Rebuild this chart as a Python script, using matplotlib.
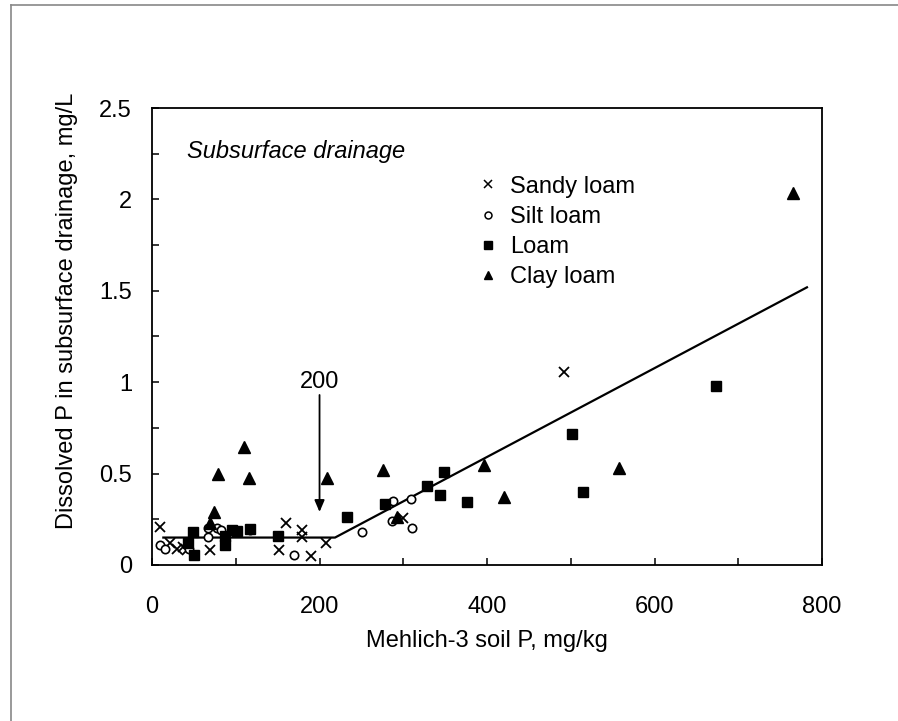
import matplotlib
matplotlib.use("Agg")
import matplotlib.pyplot as plt
from matplotlib.lines import Line2D

plt.rcParams['font.family'] = ['Liberation Sans', 'DejaVu Sans']

# Mehlich-3 soil P (mg/kg) vs dissolved P (mg/L)
sandy_x = [9.6, 22, 30, 37, 42, 69, 152, 160, 178.7, 179.5, 190, 208, 300, 492.5]
sandy_y = [0.21, 0.12, 0.09, 0.10, 0.08, 0.082, 0.082, 0.228, 0.19, 0.155, 0.049, 0.122, 0.255, 1.057]

silt_x = [10, 16, 44.5, 67, 67, 77, 82, 117, 170, 251, 286, 288, 309, 311]
silt_y = [0.11, 0.085, 0.087, 0.20, 0.155, 0.20, 0.19, 0.19, 0.055, 0.179, 0.242, 0.35, 0.36, 0.20]

loam_x = [43, 48.6, 50.5, 87, 87, 96, 101, 117, 150, 232.5, 278, 328, 344, 349, 376.5, 501, 515, 673]
loam_y = [0.12, 0.178, 0.055, 0.16, 0.11, 0.19, 0.188, 0.195, 0.157, 0.264, 0.335, 0.43, 0.383, 0.51, 0.346, 0.717, 0.40, 0.98]

clay_x = [69, 74, 78.4, 109.5, 116, 209, 276, 292, 396, 420, 557, 765]
clay_y = [0.23, 0.29, 0.50, 0.644, 0.478, 0.478, 0.52, 0.264, 0.547, 0.374, 0.53, 2.035]

# split-line model, change point near 200 mg/kg
fit_x = [13.5, 218.5, 782]
fit_y = [0.15, 0.15, 1.519]

fs = 17

fig = plt.figure(figsize=(8.98, 7.21), dpi=100)
ax = fig.add_axes([0.1693, 0.2164, 0.9154 - 0.1693, 0.8502 - 0.2164])

ax.plot(fit_x, fit_y, color='black', lw=1.6, zorder=2)

ax.plot(sandy_x, sandy_y, 'x', color='black', ms=7.5, mew=1.3, zorder=3)
ax.plot(silt_x, silt_y, 'o', mfc='white', mec='black', ms=6, mew=1.2, zorder=3)
ax.plot(loam_x, loam_y, 's', color='black', ms=6.8, zorder=3)
ax.plot(clay_x, clay_y, '^', color='black', ms=8.5, zorder=3)

ax.annotate('', xy=(200, 0.29), xytext=(200, 0.93),
            arrowprops=dict(arrowstyle='-|>,head_width=0.3,head_length=0.7',
                            color='black', lw=1.3, shrinkA=0, shrinkB=0))
ax.text(200, 1.0, '200', ha='center', va='center', fontsize=fs)

ax.text(0.052, 0.904, 'Subsurface drainage', transform=ax.transAxes,
        fontsize=fs, style='italic', va='center', ha='left')

handles = [
    Line2D([], [], ls='none', marker='x', color='black', ms=5.5, mew=1.1),
    Line2D([], [], ls='none', marker='o', mfc='white', mec='black', ms=5, mew=1.1),
    Line2D([], [], ls='none', marker='s', color='black', ms=5.5),
    Line2D([], [], ls='none', marker='^', color='black', ms=6),
]
labels = ['Sandy loam', 'Silt loam', 'Loam', 'Clay loam']
ax.legend(handles, labels, loc='upper left', bbox_to_anchor=(0.4836, 0.852),
          frameon=False, fontsize=fs, handlelength=1.0, handletextpad=0.45,
          labelspacing=0.35, borderpad=0, borderaxespad=0)

ax.set_xlim(0, 800)
ax.set_ylim(0, 2.5)
xt = list(range(0, 801, 100))
ax.set_xticks(xt)
ax.set_xticklabels([str(v) if v % 200 == 0 else '' for v in xt])
yt = [i * 0.25 for i in range(11)]
ax.set_yticks(yt)
ax.set_yticklabels([('%g' % v) if i % 2 == 0 else '' for i, v in enumerate(yt)])
ax.tick_params(direction='in', length=5, width=1.1, labelsize=fs)
ax.tick_params(axis='y', pad=14.4)
ax.tick_params(axis='x', pad=22)
for s in ax.spines.values():
    s.set_linewidth(1.3)

ax.set_xlabel('Mehlich-3 soil P, mg/kg', fontsize=fs)
ax.set_ylabel('Dissolved P in subsurface drainage, mg/L', fontsize=fs)
ax.xaxis.set_label_coords(0.5, -0.142)
ax.yaxis.set_label_coords(-0.11, 0.556)

# thin grey frame along the top and left edges of the page
fig.add_artist(Line2D([11 / 898, 1], [1 - 5 / 721, 1 - 5 / 721], color='#888888', lw=1.2))
fig.add_artist(Line2D([11 / 898, 11 / 898], [0, 1 - 5 / 721], color='#888888', lw=1.2))

fig.savefig('out.png', dpi=100)
